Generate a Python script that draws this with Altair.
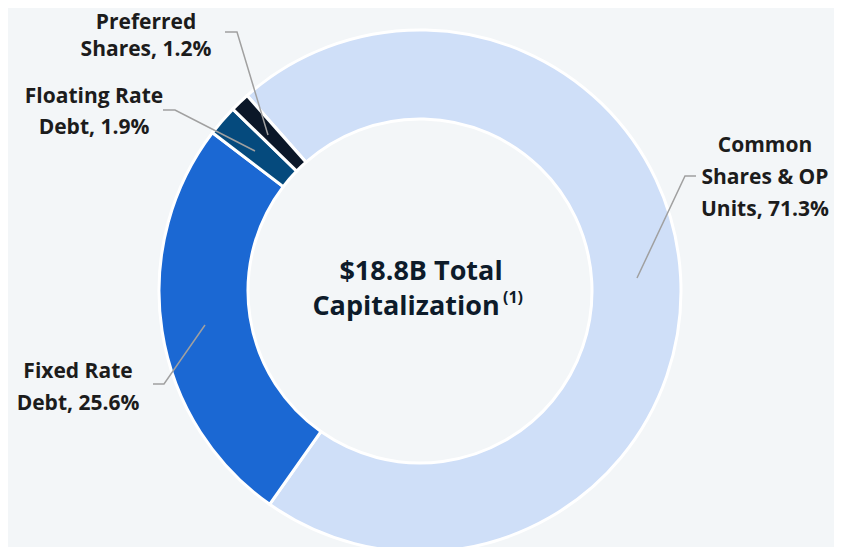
import math
import altair as alt
import pandas as pd

categories = ["Common Shares & OP Units", "Fixed Rate Debt", "Floating Rate Debt", "Preferred Shares"]
values = [71.3, 25.6, 1.9, 1.2]
colors = ["#cfdff8", "#1b68d3", "#054a7d", "#0b1728"]

df = pd.DataFrame({"category": categories, "value": values, "order": list(range(len(categories)))})

BG = "#f3f6f8"
FONT = "Open Sans"
TXT = "#1c1c1c"
CX, CY = 412, 283
start = math.radians(-41.5)

donut = alt.Chart(df).mark_arc(radius=261, radius2=172, stroke="white", strokeWidth=3).encode(
    theta=alt.Theta("value:Q", stack=True,
                    scale=alt.Scale(domain=[0, sum(values)], range=[start, start + 2 * math.pi])),
    color=alt.Color("category:N", scale=alt.Scale(domain=categories, range=colors), legend=None),
    order=alt.Order("order:Q"),
    x=alt.value(CX), y=alt.value(CY),
)

anno = pd.DataFrame({"a": [0]})

def label(lines, x, y, size=21, lh=31, color=TXT, align="center"):
    return alt.Chart(anno).mark_text(text=lines, font=FONT, fontWeight="bold", fontSize=size,
                                     lineHeight=lh, color=color, align=align, baseline="middle").encode(
        x=alt.value(x), y=alt.value(y))

def leader(points):
    d = pd.DataFrame({"px": [p[0] for p in points], "py": [p[1] for p in points], "i": list(range(len(points)))})
    return alt.Chart(d).mark_line(color="#a0a0a0", strokeWidth=1.5).encode(
        x=alt.X("px:Q", scale=None), y=alt.Y("py:Q", scale=None), order="i:Q")

layers = [
    donut,
    leader([(217, 24), (229, 24), (260, 127)]),
    leader([(155, 102), (167, 102), (247, 143)]),
    leader([(688, 168), (677, 168), (629, 270)]),
    leader([(145, 376), (156, 376), (197, 317)]),
    label(["Preferred", "Shares, 1.2%"], 138, 15, lh=27),
    label(["Floating Rate", "Debt, 1.9%"], 86, 89),
    label(["Common", "Shares & OP", "Units, 71.3%"], 757, 138, lh=32),
    label(["Fixed Rate", "Debt, 25.6%"], 70, 364, lh=32),
    label(["$18.8B Total"], 413, 264, size=27, color="#0d1b2a"),
    label(["Capitalization"], 398, 299, size=27, color="#0d1b2a"),
    label(["(1)"], 495, 290, size=16, color="#0d1b2a", align="left"),
]

chart = alt.layer(*layers).properties(
    width=826, height=539, background=BG,
    autosize=alt.AutoSizeParams(type="fit", contains="padding"), padding=0,
).configure_view(stroke=None)

chart.save("out.html", embed_options={"renderer": "svg", "actions": False})
